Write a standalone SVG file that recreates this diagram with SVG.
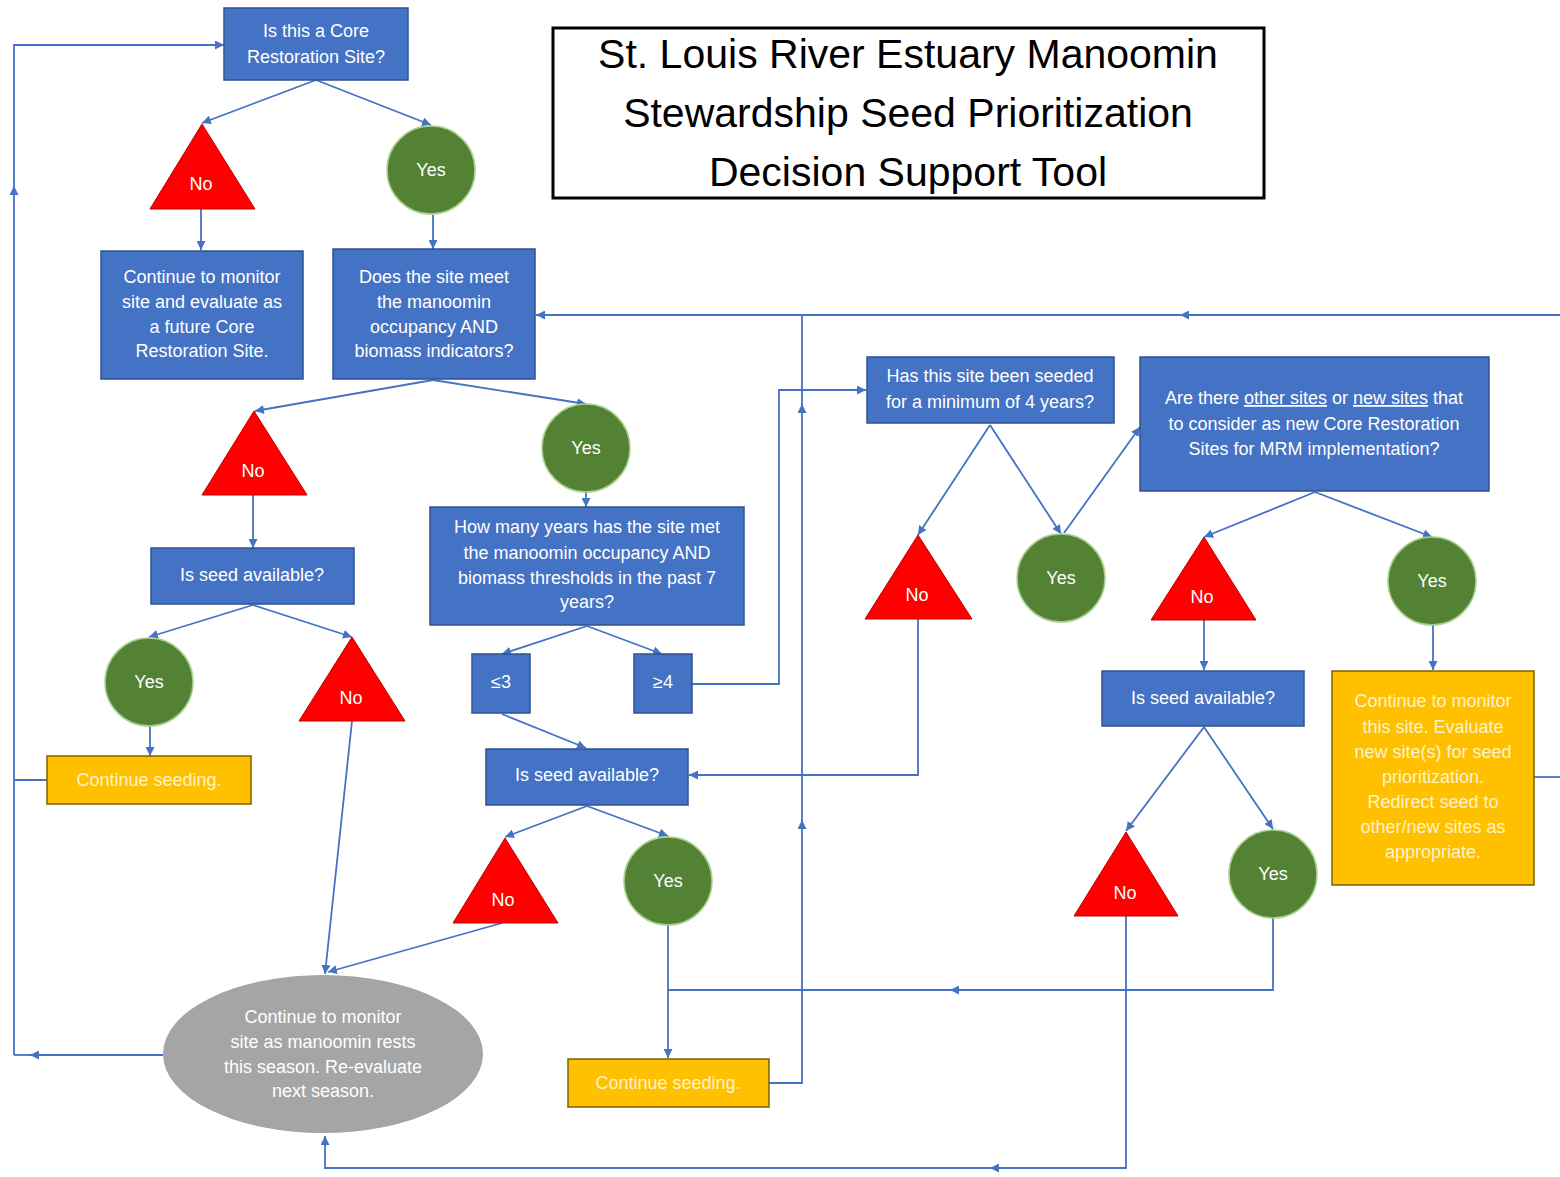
<svg xmlns="http://www.w3.org/2000/svg" width="1560" height="1177" viewBox="0 0 1560 1177">
<defs>
<marker id="ah" viewBox="0 0 10 10" refX="10" refY="5" markerWidth="9" markerHeight="9" markerUnits="userSpaceOnUse" orient="auto">
<path d="M0,0 L10,5 L0,10 z" fill="#4472c4"/>
</marker>
<style>
.c{fill:none;stroke:#4472c4;stroke-width:1.8}
.a{marker-end:url(#ah)}
.bx{fill:#4472c4;stroke:#2f528f;stroke-width:1.5}
.yl{fill:#ffc000;stroke:#7f6000;stroke-width:1.5}
.no{fill:#ff0000;stroke:#c00000;stroke-width:1}
.ys{fill:#548235;stroke:#a9d18e;stroke-width:1.5}
.el{fill:#a5a5a5}
text{font-family:"Liberation Sans",Arial,sans-serif;font-size:18px;text-anchor:middle;fill:#ffffff}
.ty{fill:#fff2cc}
.ti{fill:#000000;font-size:41px}
</style>
</defs>
<rect width="1560" height="1177" fill="#ffffff"/>

<g id="connectors">
<path class="c a" d="M316,80 L202,123"/>
<path class="c a" d="M316,80 L431,125"/>
<path class="c a" d="M201,209 L201,250"/>
<path class="c a" d="M433,215 L433,249"/>
<path class="c a" d="M433,380 L255,411"/>
<path class="c a" d="M433,380 L586,404"/>
<path class="c a" d="M253,495 L253,548"/>
<path class="c a" d="M253,605 L149,637"/>
<path class="c a" d="M253,605 L352,637"/>
<path class="c a" d="M150,726 L150,756"/>
<path class="c" d="M47,780 L14,780"/>
<path class="c a" d="M163,1055 L30,1055"/>
<path class="c" d="M34,1055 L14,1055"/>
<path class="c a" d="M14,1055 L14,186"/>
<path class="c a" d="M14,190 L14,45 L224,45"/>
<path class="c a" d="M352,721 L325,974"/>
<path class="c a" d="M586,492 L586,507"/>
<path class="c a" d="M587,626 L502,654"/>
<path class="c a" d="M587,626 L662,654"/>
<path class="c a" d="M502,714 L586,748"/>
<path class="c a" d="M692,684 L779,684 L779,390 L866,390"/>
<path class="c a" d="M990,425 L918,535"/>
<path class="c a" d="M990,425 L1061,534"/>
<path class="c a" d="M918,619 L918,775 L689,775"/>
<path class="c a" d="M1064,533 L1140,427"/>
<path class="c a" d="M1315,492 L1204,537"/>
<path class="c a" d="M1315,492 L1432,537"/>
<path class="c a" d="M1204,620 L1204,670"/>
<path class="c a" d="M1433,625 L1433,670"/>
<path class="c" d="M1534,777 L1560,777"/>
<path class="c a" d="M1560,315 L1180,315"/>
<path class="c a" d="M1185,315 L536,315"/>
<path class="c a" d="M769,1083 L802,1083 L802,820"/>
<path class="c a" d="M802,825 L802,404"/>
<path class="c" d="M802,410 L802,315"/>
<path class="c a" d="M1204,727 L1126,831"/>
<path class="c a" d="M1204,727 L1273,829"/>
<path class="c a" d="M1273,918 L1273,990 L950,990"/>
<path class="c" d="M955,990 L668,990"/>
<path class="c a" d="M1126,916 L1126,1168 L990,1168"/>
<path class="c a" d="M995,1168 L325,1168 L325,1136"/>
<path class="c a" d="M587,806 L505,837"/>
<path class="c a" d="M587,806 L668,836"/>
<path class="c a" d="M668,925 L668,1058"/>
<path class="c a" d="M502,923 L328,972"/>
</g>

<g id="title">
<rect x="553" y="28" width="711" height="170" fill="#ffffff" stroke="#000000" stroke-width="3"/>
<text class="ti" x="908" y="68">St. Louis River Estuary Manoomin</text>
<text class="ti" x="908" y="127">Stewardship Seed Prioritization</text>
<text class="ti" x="908" y="186">Decision Support Tool</text>
</g>

<g id="n-core">
<rect class="bx" x="224" y="8" width="184" height="72"/>
<text x="316" y="37">Is this a Core</text>
<text x="316" y="63">Restoration Site?</text>
</g>
<g id="n-no1"><polygon class="no" points="202,124 255,209 150,209"/><text x="201" y="190">No</text></g>
<g id="n-yes1"><circle class="ys" cx="431" cy="170" r="44"/><text x="431" y="176">Yes</text></g>
<g id="n-monitor-future">
<rect class="bx" x="101" y="251" width="202" height="128"/>
<text x="202" y="283">Continue to monitor</text>
<text x="202" y="308">site and evaluate as</text>
<text x="202" y="333">a future Core</text>
<text x="202" y="357">Restoration Site.</text>
</g>
<g id="n-indicators">
<rect class="bx" x="333" y="249" width="202" height="130"/>
<text x="434" y="283">Does the site meet</text>
<text x="434" y="308">the manoomin</text>
<text x="434" y="333">occupancy AND</text>
<text x="434" y="357">biomass indicators?</text>
</g>
<g id="n-no2"><polygon class="no" points="254,411 307,495 202,495"/><text x="253" y="477">No</text></g>
<g id="n-yes2"><circle class="ys" cx="586" cy="448" r="44"/><text x="586" y="454">Yes</text></g>
<g id="n-seed1">
<rect class="bx" x="151" y="548" width="203" height="56"/>
<text x="252" y="581">Is seed available?</text>
</g>
<g id="n-yes3"><circle class="ys" cx="149" cy="682" r="44"/><text x="149" y="688">Yes</text></g>
<g id="n-no3"><polygon class="no" points="352,637 405,721 299,721"/><text x="351" y="704">No</text></g>
<g id="n-cont1">
<rect class="yl" x="47" y="756" width="204" height="48"/>
<text class="ty" x="149" y="786">Continue seeding.</text>
</g>
<g id="n-years">
<rect class="bx" x="430" y="507" width="314" height="118"/>
<text x="587" y="533">How many years has the site met</text>
<text x="587" y="559">the manoomin occupancy AND</text>
<text x="587" y="584">biomass thresholds in the past 7</text>
<text x="587" y="608">years?</text>
</g>
<g id="n-le3"><rect class="bx" x="472" y="654" width="58" height="59"/><text x="501" y="688">≤3</text></g>
<g id="n-ge4"><rect class="bx" x="634" y="654" width="58" height="59"/><text x="663" y="688">≥4</text></g>
<g id="n-seed2">
<rect class="bx" x="486" y="749" width="202" height="56"/>
<text x="587" y="781">Is seed available?</text>
</g>
<g id="n-no7"><polygon class="no" points="505,838 558,923 453,923"/><text x="503" y="906">No</text></g>
<g id="n-yes7"><circle class="ys" cx="668" cy="881" r="44"/><text x="668" y="887">Yes</text></g>
<g id="n-cont2">
<rect class="yl" x="568" y="1059" width="201" height="48"/>
<text class="ty" x="668" y="1089">Continue seeding.</text>
</g>
<g id="n-rest">
<ellipse class="el" cx="323" cy="1054" rx="160" ry="79"/>
<text x="323" y="1023">Continue to monitor</text>
<text x="323" y="1048">site as manoomin rests</text>
<text x="323" y="1073">this season. Re-evaluate</text>
<text x="323" y="1097">next season.</text>
</g>
<g id="n-seeded4">
<rect class="bx" x="867" y="357" width="247" height="66"/>
<text x="990" y="382">Has this site been seeded</text>
<text x="990" y="408">for a minimum of 4 years?</text>
</g>
<g id="n-no4"><polygon class="no" points="918,535 972,619 865,619"/><text x="917" y="601">No</text></g>
<g id="n-yes4"><circle class="ys" cx="1061" cy="578" r="44"/><text x="1061" y="584">Yes</text></g>
<g id="n-other">
<rect class="bx" x="1140" y="357" width="349" height="134"/>
<text x="1314" y="404">Are there <tspan text-decoration="underline">other sites</tspan> or <tspan text-decoration="underline">new sites</tspan> that</text>
<text x="1314" y="430">to consider as new Core Restoration</text>
<text x="1314" y="455">Sites for MRM implementation?</text>
</g>
<g id="n-no5"><polygon class="no" points="1204,537 1256,620 1151,620"/><text x="1202" y="603">No</text></g>
<g id="n-yes5"><circle class="ys" cx="1432" cy="581" r="44"/><text x="1432" y="587">Yes</text></g>
<g id="n-seed3">
<rect class="bx" x="1102" y="671" width="202" height="55"/>
<text x="1203" y="704">Is seed available?</text>
</g>
<g id="n-newsites">
<rect class="yl" x="1332" y="671" width="202" height="214"/>
<text class="ty" x="1433" y="707">Continue to monitor</text>
<text class="ty" x="1433" y="733">this site. Evaluate</text>
<text class="ty" x="1433" y="758">new site(s) for seed</text>
<text class="ty" x="1433" y="783">prioritization.</text>
<text class="ty" x="1433" y="808">Redirect seed to</text>
<text class="ty" x="1433" y="833">other/new sites as</text>
<text class="ty" x="1433" y="858">appropriate.</text>
</g>
<g id="n-no6"><polygon class="no" points="1126,832 1178,916 1074,916"/><text x="1125" y="899">No</text></g>
<g id="n-yes6"><circle class="ys" cx="1273" cy="874" r="44"/><text x="1273" y="880">Yes</text></g>
</svg>
